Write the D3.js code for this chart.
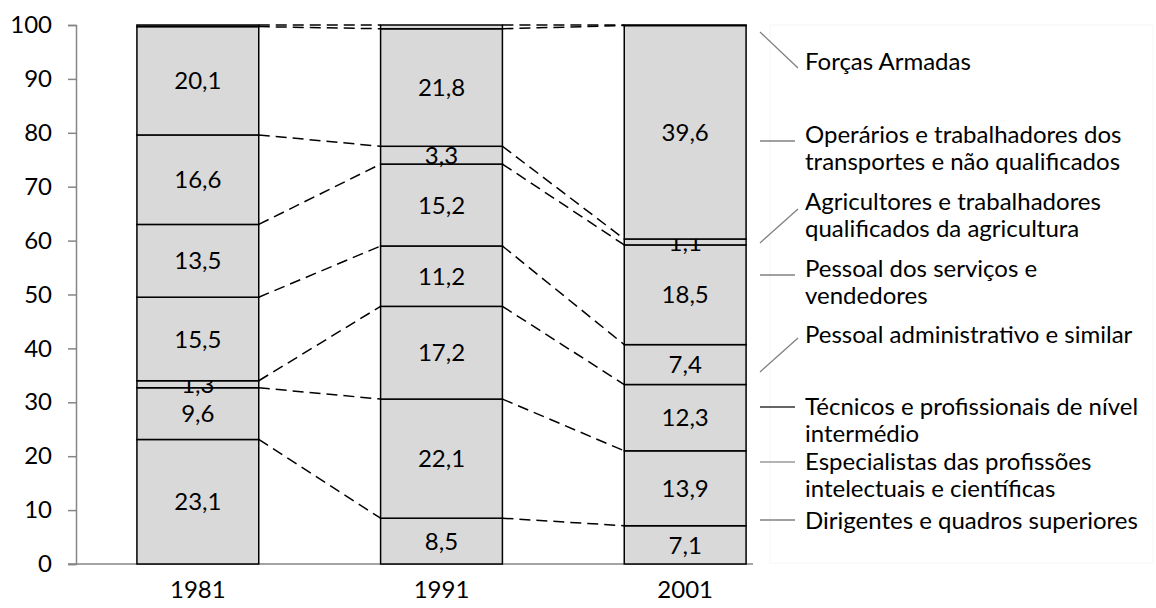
<!DOCTYPE html>
<html>
<head>
<meta charset="utf-8">
<script src="https://cdn.jsdelivr.net/npm/d3@7"></script>
<style>
  body { margin: 0; background: #fff; }
  svg { display: block; font-family: Lato, "Open Sans", sans-serif; }
</style>
</head>
<body>
<svg width="1156" height="608"></svg>
<script>
// Values per occupational group, for 1981, 1991 and 2001 (bottom to top of the stack)
var years = ["1981", "1991", "2001"];
var dirigentes     = [23.1, 8.5, 7.1];
var especialistas  = [9.6, 22.1, 13.9];
var tecnicos       = [1.3, 17.2, 12.3];
var administrativo = [15.5, 11.2, 7.4];
var servicos       = [13.5, 15.2, 18.5];
var agricultores   = [16.6, 3.3, 1.1];
var operarios      = [20.1, 21.8, 39.6];
var forcas         = [0.3, 0.7, 0.1];
var yTicks = [0, 10, 20, 30, 40, 50, 60, 70, 80, 90, 100];

var seriesNames = [
  "Dirigentes e quadros superiores",
  "Especialistas das profissões intelectuais e científicas",
  "Técnicos e profissionais de nível intermédio",
  "Pessoal administrativo e similar",
  "Pessoal dos serviços e vendedores",
  "Agricultores e trabalhadores qualificados da agricultura",
  "Operários e trabalhadores dos transportes e não qualificados",
  "Forças Armadas"
];
// legend text, broken on lines as in the original
var legendLines = [
  ["Dirigentes e quadros superiores"],
  ["Especialistas das profissões", "intelectuais e científicas"],
  ["Técnicos e profissionais de nível", "intermédio"],
  ["Pessoal administrativo e similar"],
  ["Pessoal dos serviços e", "vendedores"],
  ["Agricultores e trabalhadores", "qualificados da agricultura"],
  ["Operários e trabalhadores dos", "transportes e não qualificados"],
  ["Forças Armadas"]
];
var seriesValues = [dirigentes, especialistas, tecnicos, administrativo, servicos, agricultores, operarios, forcas];
var showLabel = [true, true, true, true, true, true, true, false];

var svg = d3.select("svg");
var fontSize = 24;

var y = d3.scaleLinear().domain([0, 100]).range([564, 25]);
var x = d3.scaleBand().domain(years).range([76, 807]).paddingInner(0.5).paddingOuter(0.25);

// table for the stack
var table = years.map(function(yr, i) {
  var row = { year: yr };
  seriesNames.forEach(function(s, k) { row[s] = seriesValues[k][i]; });
  return row;
});
var stacked = d3.stack().keys(seriesNames)(table);

// axes
var yAxis = svg.append("g")
  .attr("transform", "translate(76,0)")
  .call(d3.axisLeft(y).tickValues(yTicks).tickSize(8).tickPadding(16));
yAxis.select(".domain").attr("stroke", "#868686").attr("stroke-width", 1.5);
yAxis.selectAll(".tick line").attr("stroke", "#868686").attr("stroke-width", 1.5);
yAxis.selectAll("text").attr("font-size", fontSize).attr("font-family", "Lato").attr("fill", "#000");

svg.append("line")
  .attr("x1", 68).attr("x2", 753)
  .attr("y1", y(0)).attr("y2", y(0))
  .attr("stroke", "#868686").attr("stroke-width", 1.5);

svg.selectAll(".xlab")
  .data(years)
  .enter().append("text")
  .attr("class", "xlab")
  .attr("x", function(d) { return x(d) + x.bandwidth() / 2; })
  .attr("y", 598)
  .attr("text-anchor", "middle")
  .attr("font-size", fontSize)
  .text(function(d) { return d; });

// dashed series lines between bars
var seriesLines = svg.append("g");
stacked.forEach(function(layer) {
  for (var i = 0; i < years.length - 1; i++) {
    seriesLines.append("line")
      .attr("x1", x(years[i]) + x.bandwidth())
      .attr("y1", y(layer[i][1]))
      .attr("x2", x(years[i + 1]))
      .attr("y2", y(layer[i + 1][1]))
      .attr("stroke", "#000")
      .attr("stroke-width", 1.5)
      .attr("stroke-dasharray", "11,6");
  }
});

// bars
var layers = svg.append("g").selectAll("g")
  .data(stacked)
  .enter().append("g");

layers.selectAll("rect")
  .data(function(d) { return d; })
  .enter().append("rect")
  .attr("x", function(d) { return x(d.data.year); })
  .attr("y", function(d) { return y(d[1]); })
  .attr("width", x.bandwidth())
  .attr("height", function(d) { return y(d[0]) - y(d[1]); })
  .attr("fill", "#d9d9d9")
  .attr("stroke", "#000")
  .attr("stroke-width", 1.5);

layers.each(function(layer, k) {
  if (!showLabel[k]) return;
  d3.select(this).selectAll("text")
    .data(layer)
    .enter().append("text")
    .attr("x", function(d) { return x(d.data.year) + x.bandwidth() / 2; })
    .attr("y", function(d) { return y((d[0] + d[1]) / 2); })
    .attr("dy", "0.36em")
    .attr("text-anchor", "middle")
    .attr("font-size", fontSize)
    .text(function(d) { return d3.format(".1f")(d[1] - d[0]).replace(".", ","); });
});

// legend on the right (layout constants)
var legendY = [520, 461, 406, 334, 268, 201, 134, 61];
var markerY = [520, 462, 407, 355, 275, 226, 141, 50];
var markerSlope = [0, 0, 0, -34, 0, -34, 0, 36];
var markerColor = ["#808080", "#9a9a9a", "#333", "#808080", "#808080", "#808080", "#808080", "#808080"];

svg.append("rect")
  .attr("x", 770).attr("y", 25).attr("width", 383).attr("height", 538)
  .attr("fill", "none").attr("stroke", "#f6f6f6");

var legend = svg.append("g").selectAll("g")
  .data(seriesNames)
  .enter().append("g");

legend.append("line")
  .attr("x1", 760)
  .attr("x2", function(d, i) { return markerSlope[i] ? 798 : 795; })
  .attr("y1", function(d, i) { return markerY[i] - markerSlope[i] / 2; })
  .attr("y2", function(d, i) { return markerY[i] + markerSlope[i] / 2; })
  .attr("stroke", function(d, i) { return markerColor[i]; })
  .attr("stroke-width", 1.3);

legend.append("text")
  .attr("x", 805)
  .attr("y", function(d, i) { return legendY[i]; })
  .attr("font-size", fontSize)
  .selectAll("tspan")
  .data(function(d, i) { return legendLines[i]; })
  .enter().append("tspan")
  .attr("x", 805)
  .attr("dy", function(d, j) { return j === 0 ? "0.36em" : 27; })
  .text(function(d) { return d; });
</script>
</body>
</html>
